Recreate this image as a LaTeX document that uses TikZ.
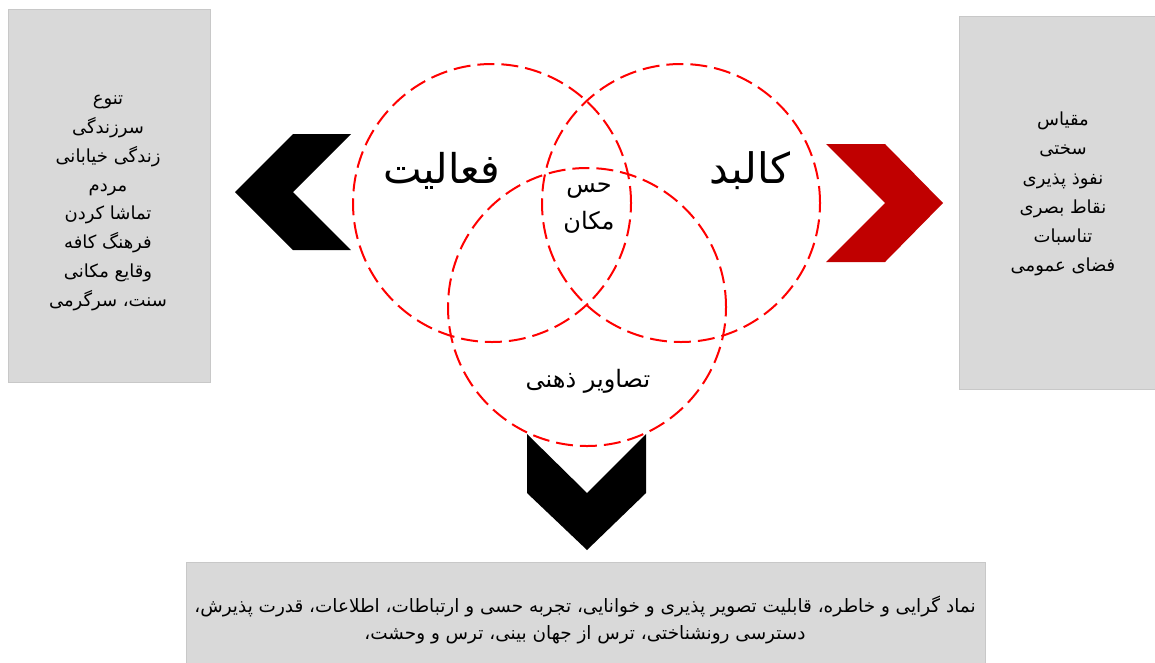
\documentclass[tikz,border=0pt]{standalone}
\usepackage{fontspec}
\TeXXeTstate=1
\newfontfamily\arabicfont[Script=Arabic]{DejaVu Sans}
\newcommand{\fa}[1]{{\arabicfont\beginR #1\endR}}
\definecolor{boxgray}{HTML}{D9D9D9}
\definecolor{boxline}{HTML}{C8C8C8}
\definecolor{darkred}{HTML}{C00000}
\tikzset{
  infobox/.style={fill=boxgray, draw=boxline, line width=0.8pt, inner sep=0pt},
  boxtext/.style={align=center, inner sep=0pt, font=\fontsize{18}{28.8}\selectfont},
  venn/.style={circle, draw=red, line width=2pt, dash pattern=on 17pt off 7pt, minimum size=278pt, inner sep=0pt},
  bigword/.style={font=\fontsize{41}{48}\selectfont},
  midword/.style={font=\fontsize{24}{37}\selectfont, align=center, inner sep=0pt}
}
\begin{document}
\begin{tikzpicture}[x=1pt,y=-1pt]
\useasboundingbox (0,0) rectangle (1155,662);
% boxes
\node[infobox, minimum width=202pt, minimum height=373pt] (lbox) at (109,195.5) {};
\node[infobox, minimum width=198pt, minimum height=373pt] (rbox) at (1058,202.5) {};
\node[infobox, minimum width=799pt, minimum height=102pt] (bbox) at (585.5,613) {};
\node[boxtext] (ltext) at (108,203)
  {\fa{تنوع}\\\fa{سرزندگی}\\\fa{زندگی خیابانی}\\\fa{مردم}\\\fa{تماشا کردن}\\\fa{فرهنگ کافه}\\\fa{وقایع مکانی}\\\fa{سنت، سرگرمی}};
\node[boxtext, font=\fontsize{18}{29.2}\selectfont] (rtext) at (1063,194)
  {\fa{مقیاس}\\\fa{سختی}\\\fa{نفوذ پذیری}\\\fa{نقاط بصری}\\\fa{تناسبات}\\\fa{فضای عمومی}};
\node[boxtext, font=\fontsize{18.4}{27}\selectfont] (btext) at (585,619.5)
  {\fa{نماد گرایی و خاطره، قابلیت تصویر پذیری و خوانایی، تجربه حسی و ارتباطات، اطلاعات، قدرت پذیرش،}\\\fa{دسترسی رونشناختی، ترس از جهان بینی، ترس و وحشت،}};
% chevrons
\fill[black] (293,134) -- (351,134) -- (293,192) -- (351,250) -- (293,250) -- (235,192) -- cycle;
\fill[darkred] (826,144) -- (885,144) -- (943,203) -- (885,262) -- (826,262) -- (885,203) -- cycle;
\fill[black] (527,434) -- (587,493) -- (646,434) -- (646,493) -- (587,550) -- (527,493) -- cycle;
% venn circles
\node[venn] (cact) at (492,203) {};
\node[venn] (cform) at (681,203) {};
\node[venn] (cimg) at (587,307) {};
% labels
\node[bigword] (tact) at (441.5,171) {\fa{فعالیت}};
\node[bigword, font=\fontsize{42}{48}\selectfont] (tform) at (750,171) {\fa{کالبد}};
\node[midword] (tsense) at (589,208) {\fa{حس}\\\fa{مکان}};
\node[midword] (timg) at (588,381.5) {\fa{تصاویر ذهنی}};
\end{tikzpicture}
\end{document}
